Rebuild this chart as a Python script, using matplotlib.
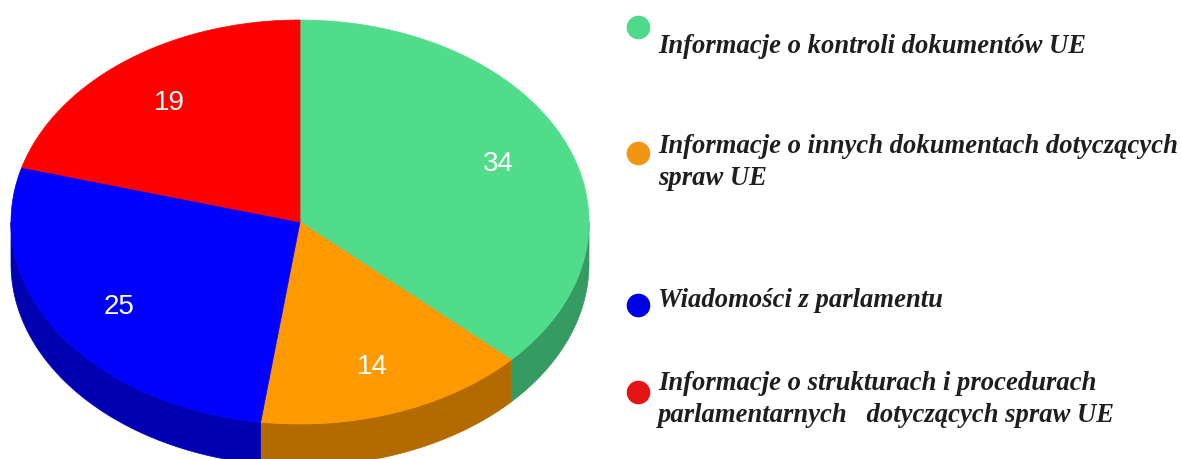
import numpy as np
import matplotlib
matplotlib.use('Agg')
import matplotlib.pyplot as plt
from matplotlib.patches import Polygon

values = [34, 14, 25, 19]
labels = [
    'Informacje o kontroli dokumentów UE',
    'Informacje o innych dokumentach dotyczących\nspraw UE',
    'Wiadomości z parlamentu',
    'Informacje o strukturach i procedurach\nparlamentarnych   dotyczących spraw UE',
]
top_colors = ['#51dc8b', '#ff9900', '#0000ff', '#ff0000']
side_colors = ['#369a63', '#b36b00', '#0000b3', '#b30000']
marker_colors = ['#4fd98a', '#f29512', '#0000e6', '#e61515']

# pie geometry in pixels
cx, cy = 300, 222
rx, ry = 289, 202
depth = 42

fig = plt.figure(figsize=(11.81, 4.59), dpi=100)
ax = fig.add_axes([0, 0, 1, 1])
ax.set_xlim(0, 1181)
ax.set_ylim(459, 0)
ax.axis('off')


def ellipse_pts(a0, a1, dy=0, n=120):
    t = np.radians(np.linspace(a0, a1, n))
    return np.column_stack([cx + rx * np.cos(t), cy - ry * np.sin(t) + dy])


total = sum(values)
cum = np.concatenate([[0], np.cumsum(values)])
starts = 90 - cum[:-1] / total * 360
ends = 90 - cum[1:] / total * 360

# side walls (only lower half visible)
for s, e, c in zip(starts, ends, side_colors):
    hi = min(s, 0)
    lo = max(e, -180)
    if lo < hi:
        top = ellipse_pts(hi, lo)
        bot = ellipse_pts(lo, hi, dy=depth)
        ax.add_patch(Polygon(np.vstack([top, bot]), closed=True,
                             facecolor=c, edgecolor=c, lw=0.5))

# top face
for s, e, c in zip(starts, ends, top_colors):
    pts = np.vstack([[cx, cy], ellipse_pts(s, e)])
    ax.add_patch(Polygon(pts, closed=True, facecolor=c, edgecolor=c, lw=0.5))

# value labels
for s, e, v in zip(starts, ends, values):
    m = np.radians((s + e) / 2)
    ax.text(cx + 0.75 * rx * np.cos(m), cy - 0.75 * ry * np.sin(m) + 2, str(v),
            color='white', fontsize=20, family='Liberation Sans',
            ha='center', va='center')

# legend (text y = baseline of last line)
marker_y = [27, 153, 305, 392]
text_y = [53, 185, 307, 422]
for my, ty, lab, c in zip(marker_y, text_y, labels, marker_colors):
    ax.plot(638, my, 'o', ms=16, color=c, mec=c)
    ax.text(658, ty, lab, fontsize=19.2, family='Liberation Serif',
            fontweight='bold', fontstyle='italic', color='#1e1e1e',
            ha='left', va='baseline', linespacing=1.37)

fig.savefig('out.png', dpi=100, facecolor='white')
